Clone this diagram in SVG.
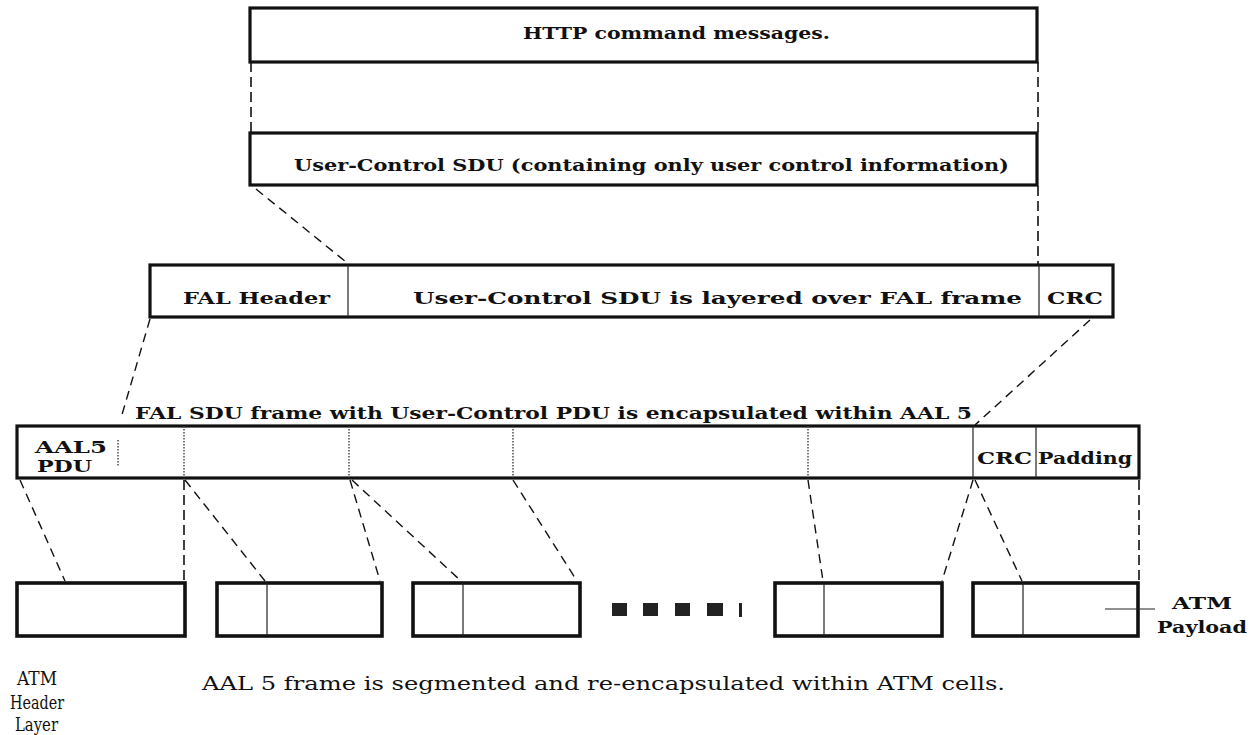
<svg xmlns="http://www.w3.org/2000/svg" width="1258" height="735" viewBox="0 0 1258 735">
<style>
.box{fill:#fff;stroke:#111;stroke-width:3.2}
.cell{fill:#fff;stroke:#111;stroke-width:3.6}
.div{stroke:#222;stroke-width:1.2;fill:none}
.dot{stroke:#333;stroke-width:1.3;stroke-dasharray:1.5 1.5;fill:none}
.dash{stroke:#111;stroke-width:1.4;stroke-dasharray:9 6;fill:none}
.vdash{stroke:#111;stroke-width:1.6;stroke-dasharray:10 5;fill:none}
text{font-family:"DejaVu Serif","Liberation Serif",serif;fill:#111}
.b{font-weight:bold;font-size:17px}
.n{font-size:18px}
.sq{fill:#222}
</style>
<rect width="1258" height="735" fill="#fff"/>
<g id="connectors">
<line class="vdash" x1="251" y1="62" x2="251" y2="133"/>
<line class="vdash" x1="1038" y1="62" x2="1038" y2="133"/>
<line class="vdash" x1="1038" y1="186" x2="1038" y2="265"/>
<line class="dash" x1="256" y1="189" x2="346" y2="262"/>
<line class="dash" x1="150" y1="319" x2="121" y2="418"/>
<line class="dash" x1="1090" y1="320" x2="975" y2="425"/>
<line class="dash" x1="20" y1="480" x2="65" y2="581"/>
<line class="vdash" x1="184" y1="480" x2="184" y2="582"/>
<line class="dash" x1="185" y1="480" x2="265" y2="581"/>
<line class="dash" x1="350" y1="480" x2="380" y2="581"/>
<line class="dash" x1="352" y1="480" x2="461" y2="581"/>
<line class="dash" x1="513" y1="480" x2="577" y2="581"/>
<line class="dash" x1="808" y1="480" x2="823" y2="581"/>
<line class="dash" x1="973" y1="480" x2="942" y2="581"/>
<line class="dash" x1="975" y1="480" x2="1022" y2="581"/>
<line class="vdash" x1="1139" y1="480" x2="1139" y2="582"/>
</g>
<g id="http">
<rect class="box" x="250" y="8" width="787" height="54"/>
<text class="b" x="523" y="39" textLength="307" lengthAdjust="spacingAndGlyphs">HTTP command messages.</text>
</g>
<g id="usercontrol">
<rect class="box" x="250" y="133" width="787" height="52"/>
<text class="b" x="294" y="171" textLength="715" lengthAdjust="spacingAndGlyphs">User-Control SDU (containing only user control information)</text>
</g>
<g id="fal">
<rect class="box" x="150" y="265" width="963" height="52"/>
<line class="div" x1="348" y1="265" x2="348" y2="317"/>
<line class="div" x1="1039" y1="265" x2="1039" y2="317"/>
<text class="b" x="183" y="304" textLength="147" lengthAdjust="spacingAndGlyphs">FAL Header</text>
<text class="b" x="413" y="304" textLength="609" lengthAdjust="spacingAndGlyphs">User-Control SDU is layered over FAL frame</text>
<text class="b" x="1047" y="304" textLength="56" lengthAdjust="spacingAndGlyphs">CRC</text>
</g>
<g id="aal5label">
<text class="b" x="135" y="419" textLength="837" lengthAdjust="spacingAndGlyphs">FAL SDU frame with User-Control PDU is encapsulated within AAL 5</text>
</g>
<g id="aal5">
<rect class="box" x="17" y="426" width="1122" height="52"/>
<line class="dot" x1="118" y1="440" x2="118" y2="466"/>
<line class="dot" x1="184" y1="426" x2="184" y2="478"/>
<line class="dot" x1="349" y1="426" x2="349" y2="478"/>
<line class="dot" x1="513" y1="426" x2="513" y2="478"/>
<line class="dot" x1="808" y1="426" x2="808" y2="478"/>
<line class="div" x1="973" y1="426" x2="973" y2="478"/>
<line class="div" x1="1036" y1="426" x2="1036" y2="478"/>
<text class="b" x="35" y="453" textLength="72" lengthAdjust="spacingAndGlyphs">AAL5</text>
<text class="b" x="37" y="472" textLength="55" lengthAdjust="spacingAndGlyphs">PDU</text>
<text class="b" x="977" y="464" textLength="55" lengthAdjust="spacingAndGlyphs">CRC</text>
<text class="b" x="1038" y="464" textLength="94" lengthAdjust="spacingAndGlyphs">Padding</text>
</g>
<g id="cell1"><rect class="cell" x="17" y="583" width="168" height="53"/></g>
<g id="cell2"><rect class="cell" x="217" y="583" width="165" height="53"/><line class="div" x1="267" y1="583" x2="267" y2="636"/></g>
<g id="cell3"><rect class="cell" x="413" y="583" width="167" height="53"/><line class="div" x1="463" y1="583" x2="463" y2="636"/></g>
<g id="ellipsis">
<rect class="sq" x="612" y="603" width="15" height="13"/>
<rect class="sq" x="643" y="603" width="15" height="13"/>
<rect class="sq" x="675" y="603" width="15" height="13"/>
<rect class="sq" x="707" y="603" width="16" height="13"/>
<rect class="sq" x="739" y="603" width="3" height="14"/>
</g>
<g id="cell4"><rect class="cell" x="775" y="583" width="167" height="53"/><line class="div" x1="824" y1="583" x2="824" y2="636"/></g>
<g id="cell5"><rect class="cell" x="973" y="583" width="165" height="53"/><line class="div" x1="1023" y1="583" x2="1023" y2="636"/></g>
<g id="payloadlabel">
<line class="div" x1="1105" y1="609" x2="1155" y2="609"/>
<text class="b" x="1172" y="609" textLength="60" lengthAdjust="spacingAndGlyphs">ATM</text>
<text class="b" x="1157" y="633" textLength="90" lengthAdjust="spacingAndGlyphs">Payload</text>
</g>
<g id="headerlabel">
<text class="n" x="17" y="685" textLength="40" lengthAdjust="spacingAndGlyphs">ATM</text>
<text class="n" x="10" y="709" textLength="54" lengthAdjust="spacingAndGlyphs">Header</text>
<text class="n" x="15" y="731" textLength="43" lengthAdjust="spacingAndGlyphs">Layer</text>
</g>
<g id="caption">
<text class="n" x="202" y="690" textLength="803" lengthAdjust="spacingAndGlyphs">AAL 5 frame is segmented and re-encapsulated within ATM cells.</text>
</g>
</svg>
